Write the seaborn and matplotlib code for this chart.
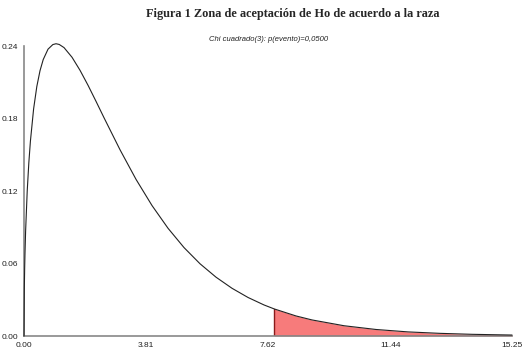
import matplotlib
matplotlib.use("Agg")
import matplotlib.pyplot as plt
import numpy as np
import seaborn as sns

# values (chi-square density, 3 df)
x_vals = [0.0, 0.01, 0.02, 0.03, 0.05, 0.1, 0.15, 0.2, 0.3, 0.4, 0.5, 0.6, 0.75, 0.9,
          1.0, 1.1, 1.25, 1.5, 1.75, 2.0, 2.25, 2.5, 3.0, 3.5, 4.0, 4.5, 5.0, 5.5,
          6.0, 6.5, 7.0, 7.5, 7.82, 8.5, 9.0, 10.0, 11.0, 12.0, 13.0, 14.0, 15.25]
density = [0.0, 0.0397, 0.0559, 0.0681, 0.0870, 0.1200, 0.1433, 0.1614, 0.1881, 0.2066,
           0.2197, 0.2289, 0.2375, 0.2413, 0.2420, 0.2414, 0.2388, 0.2308, 0.2200,
           0.2076, 0.1943, 0.1807, 0.1542, 0.1297, 0.1080, 0.0892, 0.0732, 0.0598,
           0.0487, 0.0395, 0.0319, 0.0257, 0.0224, 0.0166, 0.0133, 0.0085, 0.0054,
           0.0034, 0.0022, 0.0014, 0.0008]
critical = 7.82
x_ticks = [0.0, 3.81, 7.62, 11.44, 15.25]
x_tick_labels = ["0.00", "3.81", "7.62", "11.44", "15.25"]
y_ticks = [0.0, 0.06, 0.12, 0.18, 0.24]
y_tick_labels = ["0.00", "0.06", "0.12", "0.18", "0.24"]

sns.set_style("white")
plt.rcParams["font.family"] = ["Liberation Sans", "DejaVu Sans"]

fig = plt.figure(figsize=(5.29, 3.55), dpi=100)
ax = fig.add_axes([0.0454, 0.0535, 0.9226, 0.8165])

xs = np.array(x_vals)
ys = np.array(density)
tail = xs >= critical
ax.fill_between(xs[tail], 0, ys[tail], color="#f77b7b", linewidth=0, zorder=1)
ax.plot([critical, critical], [0, ys[tail][0]], color="#8b1a1a", lw=1.0, zorder=2)
ax.plot(xs[tail], np.zeros(tail.sum()), color="#8b1a1a", lw=1.0, zorder=2)
sns.lineplot(x=xs, y=ys, ax=ax, color="#222222", lw=0.8, sort=False,
             estimator=None, zorder=3, clip_on=False)

ax.set_xlim(0, 15.25)
ax.set_ylim(0, 0.24)
ax.set_xticks(x_ticks)
ax.set_xticklabels(x_tick_labels)
ax.set_yticks(y_ticks)
ax.set_yticklabels(y_tick_labels)
ax.tick_params(axis="both", labelsize=6, length=3, width=0.8,
               direction="out", pad=1, colors="#888888", labelcolor="#222222")
for side in ["top", "right"]:
    ax.spines[side].set_visible(False)
for side in ["left", "bottom"]:
    ax.spines[side].set_color("#888888")
    ax.spines[side].set_linewidth(1.2)
ax.set_xlabel("")
ax.set_ylabel("")

fig.text(0.554, 0.96, "Figura 1 Zona de aceptación de Ho de acuerdo a la raza",
         ha="center", va="center", fontsize=8.8, fontweight="bold",
         family=["Liberation Serif", "DejaVu Serif"])
fig.text(0.507, 0.888, "Chi cuadrado(3): p(evento)=0,0500", ha="center", va="center",
         fontsize=5.5, style="italic", color="#222222")

fig.savefig("out.png", dpi=100)
